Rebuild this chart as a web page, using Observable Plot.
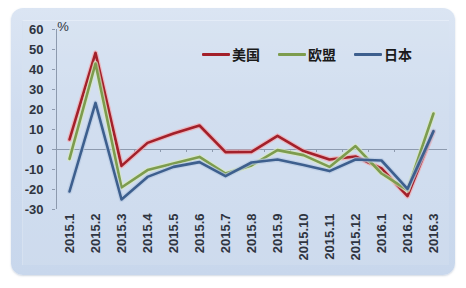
<!DOCTYPE html>
<html>
<head>
<meta charset="utf-8">
<script src="https://cdn.jsdelivr.net/npm/d3@7"></script>
<script src="https://cdn.jsdelivr.net/npm/@observablehq/plot@0.6"></script>
<style>
  html, body { margin: 0; padding: 0; background: #ffffff; }
  #wrap { position: relative; width: 466px; height: 288px; overflow: hidden; font-family: "Liberation Sans", Arial, sans-serif; }
  #panel { position: absolute; left: 11px; top: 8px; width: 444px; height: 267px; border-radius: 12px;
    background: linear-gradient(180deg, #dbe5f3 0%, #cfdcef 40%, #c8d7ec 100%);
    box-shadow: 0 1px 2px rgba(120,140,170,0.35); }
  #inner { position: absolute; left: 22px; top: 20px; width: 426px; height: 244px;
    border-top: 1px solid #e4ecf7; border-left: 1px solid #d6e1f0; background: rgba(214,226,242,0.35); }
  #chart { position: absolute; left: 0; top: 0; }
  #legend { position: absolute; top: 44px; left: 202px; display: flex; align-items: center;
    font-family: "Noto Sans CJK SC", sans-serif; font-weight: bold; font-size: 14px; color: #1a1a1a; }
  .sw { display: inline-block; width: 28px; height: 3px; margin-right: 2px; border-radius: 1px; }
  .item { display: flex; align-items: center; margin-right: 18px; }
</style>
</head>
<body>
<div id="wrap">
  <div id="panel"></div>
  <div id="inner"></div>
  <div id="chart"></div>
  <div id="legend"></div>
</div>
<script>
const categories = ["2015.1","2015.2","2015.3","2015.4","2015.5","2015.6","2015.7","2015.8","2015.9","2015.10","2015.11","2015.12","2016.1","2016.2","2016.3"];
const seriesNames = ["美国", "欧盟", "日本"];
const usValues = [5, 48.3, -8.2, 3.3, 8, 12, -1.3, -1.2, 6.8, -0.8, -5, -3.5, -9.5, -23.3, 9];
const euValues = [-4.7, 43, -19, -10.3, -7, -3.7, -12, -8, -0.3, -2.8, -8.7, 1.7, -12, -20.3, 18];
const jpValues = [-21, 23.3, -25, -13.7, -8.7, -6.3, -13.3, -6.5, -5, -7.8, -10.8, -5, -5.5, -19.7, 9.2];
const yTicks = [-30, -20, -10, 0, 10, 20, 30, 40, 50, 60];
const colors = ["#a3202a", "#7d9c4e", "#3d5f8e"];
const haloColors = ["#f3a7ad", "#d9e8bf", "#b7c9e2"];

const allValues = [usValues, euValues, jpValues];
const data = [];
seriesNames.forEach((s, si) => {
  categories.forEach((c, i) => data.push({series: s, cat: c, value: allValues[si][i]}));
});

const marks = [
  Plot.ruleY([0], {stroke: "#8d9aae", strokeWidth: 1}),
  Plot.ruleX(categories.slice(0, -1), {x: d => d, dx: 13, y1: 0, y2: -1.5, stroke: "#8d9aae", strokeWidth: 1}),
  Plot.axisY({ticks: yTicks, tickSize: 3, tickPadding: 9, stroke: "#8d9aae", fill: "#2e3440",
    fontSize: 13, fontWeight: "bold", tickFormat: d => String(d)}),
  Plot.ruleX([categories[0]], {x: d => d, dx: -13, y1: -30, y2: 60, stroke: "#8d9aae"}),
  Plot.axisX({tickSize: 0, tickPadding: 4, tickRotate: -90, fill: "#2e3440", fontSize: 13, fontWeight: "bold", frameAnchor: "bottom"})
];
seriesNames.forEach((s, si) => {
  const d = data.filter(r => r.series === s);
  marks.push(Plot.line(d, {x: "cat", y: "value", stroke: haloColors[si], strokeWidth: 5, strokeOpacity: 0.7}));
  marks.push(Plot.line(d, {x: "cat", y: "value", stroke: colors[si], strokeWidth: 2.6}));
});

const chart = Plot.plot({
  width: 466,
  height: 288,
  marginLeft: 55,
  marginRight: 19,
  marginTop: 29,
  marginBottom: 79,
  style: {background: "transparent", fontFamily: "Liberation Sans, Arial, sans-serif"},
  x: {type: "point", domain: categories, padding: 0.5, label: null, axis: null},
  y: {domain: [-30, 60], label: null, axis: null},
  marks
});
document.getElementById("chart").appendChild(chart);

// "%" unit label
const svg = d3.select(chart);
svg.append("text").attr("x", 63).attr("y", 31).attr("font-size", 13).attr("fill", "#2e3440")
  .attr("font-family", "Liberation Sans, Arial, sans-serif").text("%");

const legend = document.getElementById("legend");
seriesNames.forEach((s, si) => {
  const item = document.createElement("span");
  item.className = "item";
  const sw = document.createElement("span");
  sw.className = "sw";
  sw.style.background = colors[si];
  item.appendChild(sw);
  const t = document.createElement("span");
  t.textContent = s;
  item.appendChild(t);
  legend.appendChild(item);
});
</script>
</body>
</html>
